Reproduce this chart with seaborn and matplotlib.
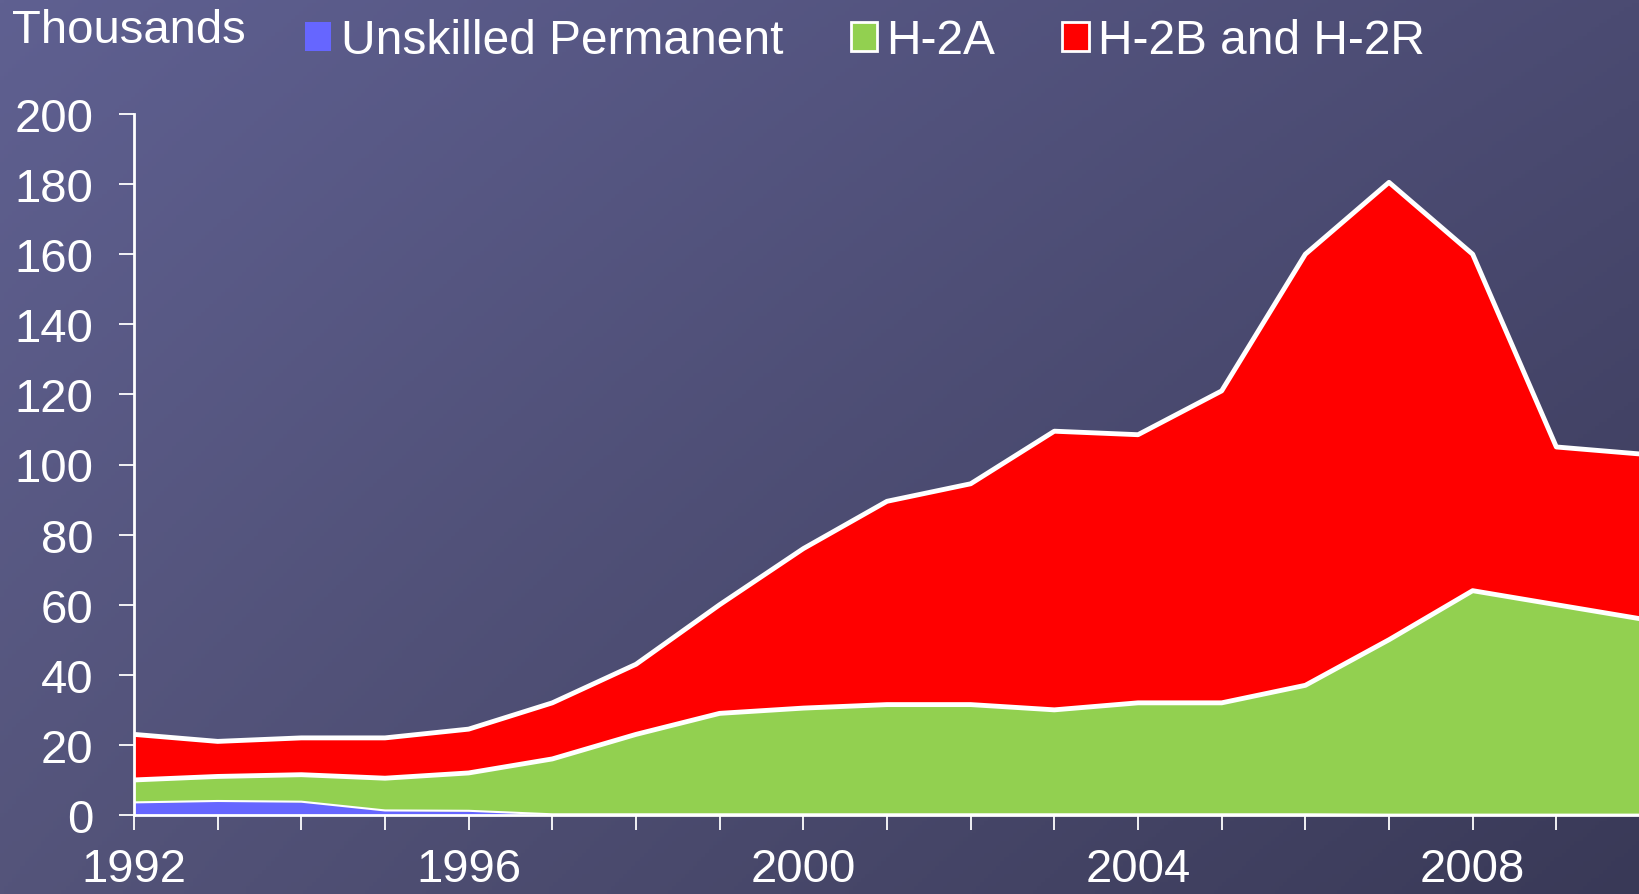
import numpy as np
import matplotlib
matplotlib.use("Agg")
import matplotlib.pyplot as plt
from matplotlib.patches import Patch
import seaborn as sns

years = list(range(1992, 2011))
unskilled = [3.6, 4.0, 3.8, 1.3, 1.2, 0.2, 0.2, 0.2, 0.2, 0.2, 0.2, 0.2, 0.2, 0.2, 0.2, 0.1, 0.1, 0.1, 0.1]
h2a = [6.4, 7.0, 7.7, 9.2, 10.8, 15.8, 22.8, 28.8, 30.3, 31.3, 31.3, 29.8, 31.8, 31.8, 36.8, 49.9, 63.9, 59.9, 55.9]
h2b = [13.0, 10.0, 10.5, 11.5, 12.5, 16.0, 20.0, 31.0, 45.5, 58.0, 63.0, 79.5, 76.5, 89.0, 123.0, 130.5, 96.0, 45.0, 47.0]
labels = ["Unskilled Permanent", "H-2A", "H-2B and H-2R"]
colors = ["#6666ff", "#92d050", "#ff0000"]
ytick_vals = list(range(0, 201, 20))
xtick_labelled = [1992, 1996, 2000, 2004, 2008]

sns.set_style("white")
plt.rcParams["font.family"] = ["Liberation Sans", "DejaVu Sans"]

fig = plt.figure(figsize=(16.4, 8.95), dpi=100)

# background: bilinear gradient between the four corner colours
bg = fig.add_axes([0, 0, 1, 1], zorder=-5)
gx, gy = np.meshgrid(np.linspace(0, 1, 400), np.linspace(0, 1, 220))
tl = np.array([95, 96, 145]) / 255
tr = np.array([75, 75, 114]) / 255
bl = np.array([84, 84, 122]) / 255
br = np.array([57, 57, 87]) / 255
gx3, gy3 = gx[..., None], gy[..., None]
img = (tl * (1 - gx3) * (1 - gy3) + tr * gx3 * (1 - gy3)
       + bl * (1 - gx3) * gy3 + br * gx3 * gy3)
bg.imshow(img, aspect="auto", extent=[0, 1, 0, 1], origin="upper")
bg.axis("off")

ax = fig.add_axes([134 / 1640, 1 - 816 / 895, 1 - 134 / 1640, (816 - 115) / 895])
ax.set_facecolor("none")

ax.stackplot(years, unskilled, h2a, h2b, colors=colors, linewidth=0)

cum1 = np.array(unskilled)
cum2 = cum1 + np.array(h2a)
cum3 = cum2 + np.array(h2b)
sns.lineplot(x=years, y=cum1, color="white", linewidth=1.5, ax=ax)
sns.lineplot(x=years, y=cum2, color="white", linewidth=3.5, ax=ax)
sns.lineplot(x=years, y=cum3, color="white", linewidth=3.5, ax=ax)

ax.set_xlim(1992, 2010)
ax.set_ylim(0, 200)
ax.set_yticks(ytick_vals)
ax.set_xticks(years)
ax.set_xticklabels([str(y) if y in xtick_labelled else "" for y in years])

for s in ["top", "right"]:
    ax.spines[s].set_visible(False)
for s in ["left", "bottom"]:
    ax.spines[s].set_color("white")
    ax.spines[s].set_linewidth(2)
ax.tick_params(axis="both", bottom=True, left=True, colors="white", direction="out",
               length=11, width=1.3, labelsize=34, labelcolor="white")
ax.tick_params(axis="x", pad=12)
ax.tick_params(axis="y", pad=18)
ax.set_xlabel("")
ax.set_ylabel("")

fig.text(12 / 1640, 1 - 31 / 895, "Thousands", color="white", fontsize=34, va="center", ha="left")

handles = [Patch(facecolor=colors[0], edgecolor="none"),
           Patch(facecolor=colors[1], edgecolor="white", linewidth=2),
           Patch(facecolor=colors[2], edgecolor="white", linewidth=2)]
fig.legend(handles, labels, loc="center left", bbox_to_anchor=(305 / 1640, 1 - 42 / 895),
           ncol=3, frameon=False, fontsize=34.5, labelcolor="white",
           handlelength=0.55, handleheight=0.55, handletextpad=0.2, columnspacing=1.4,
           borderpad=0, borderaxespad=0)

fig.savefig("out.png", dpi=100)
